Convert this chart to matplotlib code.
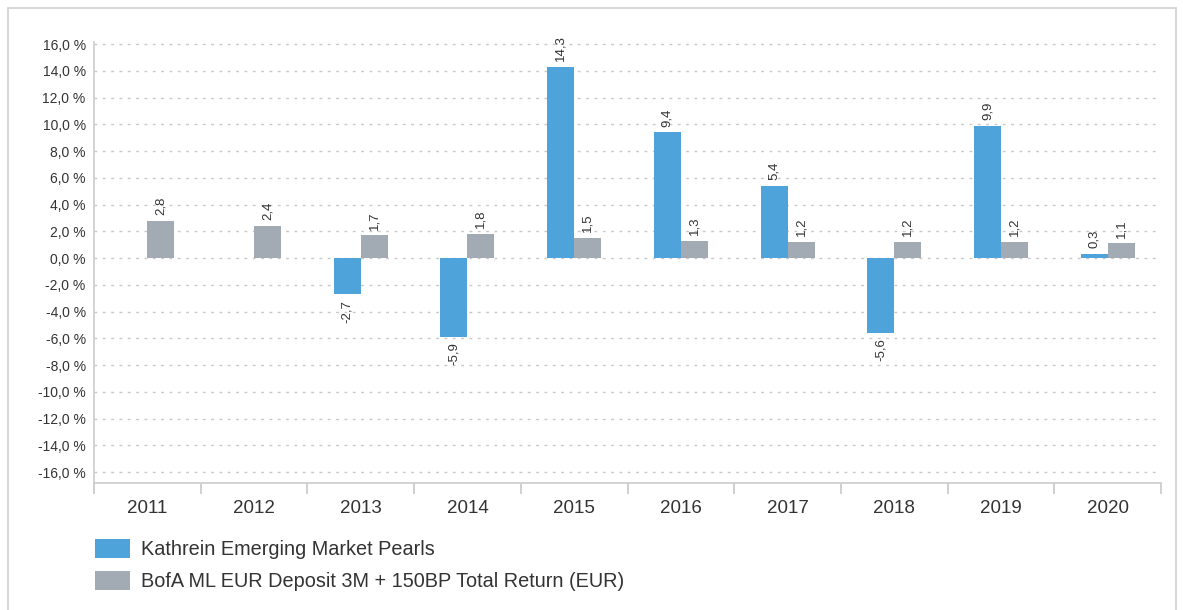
import matplotlib
matplotlib.use("Agg")
import matplotlib.pyplot as plt
from matplotlib.patches import Rectangle
import numpy as np

plt.rcParams['font.family'] = ['Liberation Sans', 'DejaVu Sans']

years = ["2011", "2012", "2013", "2014", "2015", "2016", "2017", "2018", "2019", "2020"]
fund = [None, None, -2.7, -5.9, 14.3, 9.4, 5.4, -5.6, 9.9, 0.3]
bench = [2.8, 2.4, 1.7, 1.8, 1.5, 1.3, 1.2, 1.2, 1.2, 1.1]
series_names = ["Kathrein Emerging Market Pearls", "BofA ML EUR Deposit 3M + 150BP Total Return (EUR)"]
yticks = list(range(-16, 17, 2))

blue = "#4FA3DB"
gray = "#A2AAB3"
txt = "#333333"

W, H = 1183, 610
fig = plt.figure(figsize=(W / 100, H / 100), dpi=100)
fig.patches.append(Rectangle((8 / W, -0.01), (1176 - 8) / W, (H - 8) / H + 0.01,
                             transform=fig.transFigure, fill=False, edgecolor="#d0d0d0", lw=1.2))

ax = fig.add_axes([94 / W, 1 - 483 / H, (1161 - 94) / W, (483 - 42) / H])
x = np.arange(len(years))
bw = 0.253
fvals = [np.nan if v is None else v for v in fund]
ax.bar(x - bw / 2, fvals, bw, color=blue, label=series_names[0], zorder=3)
ax.bar(x + bw / 2, bench, bw, color=gray, label=series_names[1], zorder=3)

def lab(v):
    return f"{v:.1f}".replace(".", ",")

for i, v in enumerate(fund):
    if v is None:
        continue
    if v >= 0:
        ax.annotate(lab(v), (x[i] - bw / 2, v), xytext=(0, 4), textcoords="offset points",
                    rotation=90, ha="center", va="bottom", fontsize=9.5, color=txt)
    else:
        ax.annotate(lab(v), (x[i] - bw / 2, v), xytext=(0, -4), textcoords="offset points",
                    rotation=90, ha="center", va="top", fontsize=9.5, color=txt)
for i, v in enumerate(bench):
    ax.annotate(lab(v), (x[i] + bw / 2, v), xytext=(0, 4), textcoords="offset points",
                rotation=90, ha="center", va="bottom", fontsize=9.5, color=txt)

ax.set_xlim(-0.5, len(years) - 0.5)
ax.set_ylim(-16.82, 16.15)
ax.set_yticks(yticks)
ax.set_yticklabels([f"{t:.1f}".replace(".", ",") + " %" for t in yticks], fontsize=10, color=txt)
for t in yticks:
    ax.axhline(t, color="#c8c8c8", lw=1.0, ls=(0, (2, 4)), zorder=1)

ax.set_xticks(x)
ax.set_xticklabels(years, fontsize=13.5, color=txt)
ax.tick_params(axis="x", length=0, pad=12)
ax.set_xticks(np.arange(-0.5, len(years), 1), minor=True)
ax.tick_params(axis="x", which="minor", length=8, color="#c8c8c8", width=1.2)
ax.tick_params(axis="y", length=0, pad=6)

for s in ["top", "right"]:
    ax.spines[s].set_visible(False)
for s in ["left", "bottom"]:
    ax.spines[s].set_color("#cccccc")
    ax.spines[s].set_linewidth(1.2)

leg = fig.legend(loc="upper left", bbox_to_anchor=(77 / W, 1 - 521 / H), frameon=False,
                 fontsize=14.3, handlelength=1.77, handleheight=1.1, labelspacing=0.6,
                 handletextpad=0.55, labelcolor=txt)

fig.savefig("out.png", dpi=100)
